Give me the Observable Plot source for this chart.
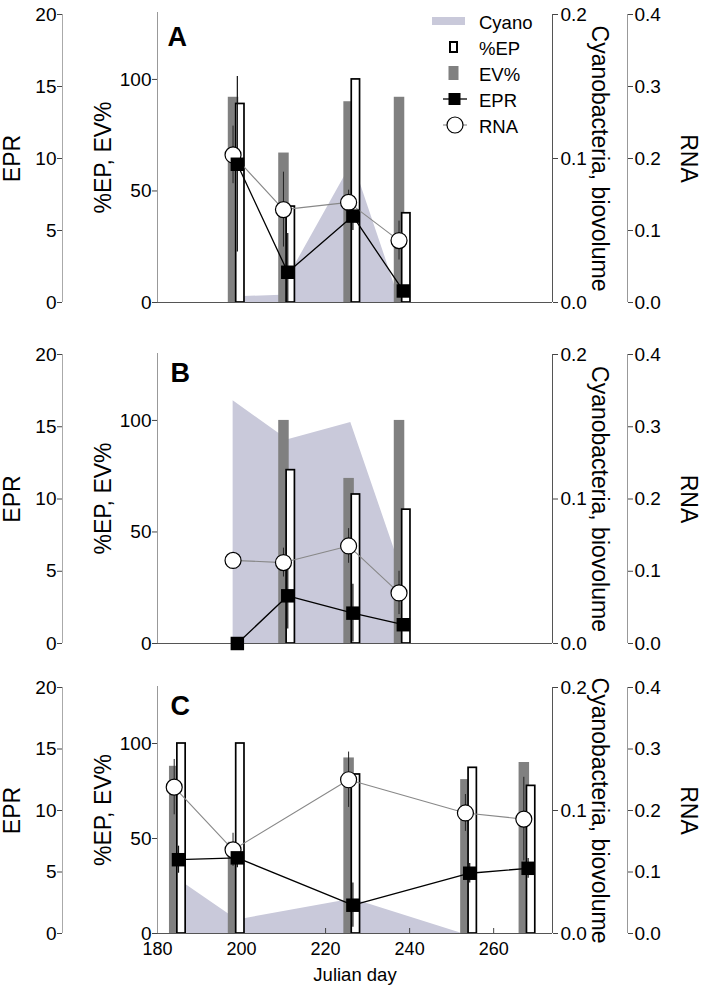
<!DOCTYPE html>
<html><head><meta charset="utf-8">
<script src="https://cdn.jsdelivr.net/npm/d3@7"></script>
<script src="https://cdn.jsdelivr.net/npm/@observablehq/plot@0.6"></script>
<style>
body{margin:0;background:#fff;}
#chart{position:relative;width:702px;height:991px;overflow:hidden;}
#chart svg{position:absolute;left:0;top:0;}
</style></head>
<body><div id="chart"></div>
<script>
// ---------- scales / ticks ----------
const xDomain = [180, 274];
const xTicks = [180, 200, 220, 240, 260];
const epTicks = [0, 50, 100];
const eprTicks = [0, 5, 10, 15, 20];
const cyanoTicks = [0, 0.1, 0.2];
const rnaTicks = [0, 0.1, 0.2, 0.3, 0.4];
const legendLabels = ["Cyano", "%EP", "EV%", "EPR", "RNA"];

// ---------- Panel A ----------
const A_days = [199, 211, 226.5, 238.5];
const A_ev = [92, 67, 90, 92];
const A_ep = [89, 43, 100, 40];
const A_epr = [9.6, 2.1, 6.0, 0.8];
const A_eprErr = [6.1, 2.7, 1.0, 0.3];
const A_rna = [0.205, 0.129, 0.139, 0.086];
const A_rnaErr = [0.040, 0.052, 0.017, 0.027];
const A_cyanoDays = [199, 209.5, 211, 226.5, 237.8];
const A_cyano = [0.004, 0.005, 0.017, 0.098, 0];

// ---------- Panel B ----------
const B_days = [199, 211, 226.5, 238.5];
const B_ev = [null, 100, 74, 100];
const B_ep = [null, 77.7, 66.8, 60];
const B_epr = [0, 3.3, 2.1, 1.3];
const B_eprErr = [0, 2.3, 2.0, 0.4];
const B_rna = [0.115, 0.112, 0.135, 0.070];
const B_rnaErr = [0, 0.020, 0.024, 0.030];
const B_cyanoDays = [198, 211, 226, 238.5];
const B_cyano = [0.168, 0.141, 0.153, 0.047];

// ---------- Panel C ----------
const C_days = [185, 199, 226.5, 254.3, 268.2];
const C_ev = [88, 48, 92.4, 81, 90];
const C_ep = [100, 100, 83.7, 87.2, 77.7];
const C_epr = [6.0, 6.15, 2.3, 4.9, 5.3];
const C_eprErr = [1.1, 0.8, 1.8, 0.8, 0.8];
const C_rna = [0.238, 0.136, 0.250, 0.196, 0.186];
const C_rnaErr = [0.045, 0.027, 0.045, 0.030, 0.068];
const C_cyanoDays = [185, 199, 226.5, 252.5];
const C_cyano = [0.044, 0.011, 0.028, 0];

// ---------- layout ----------
const W = 702, H = 991;
const FL = 157, FR = 552;
const FONT = '"Liberation Sans", Arial, Helvetica, sans-serif';
const CYANO_COL = "#c9c9da", GRAY = "#808080";

const panels = [
  {letter: "A", days: A_days, ev: A_ev, ep: A_ep, epr: A_epr, eprErr: A_eprErr, rna: A_rna, rnaErr: A_rnaErr,
   cDays: A_cyanoDays, cyano: A_cyano, epTop: 12, top: 14, bottom: 302, letterDx: 10, letterDy: 14, xAxis: false},
  {letter: "B", days: B_days, ev: B_ev, ep: B_ep, epr: B_epr, eprErr: B_eprErr, rna: B_rna, rnaErr: B_rnaErr,
   cDays: B_cyanoDays, cyano: B_cyano, epTop: 353, top: 354, bottom: 643, letterDx: 13, letterDy: 9, xAxis: false},
  {letter: "C", days: C_days, ev: C_ev, ep: C_ep, epr: C_epr, eprErr: C_eprErr, rna: C_rna, rnaErr: C_rnaErr,
   cDays: C_cyanoDays, cyano: C_cyano, epTop: 686, top: 687, bottom: 933, letterDx: 13, letterDy: 9, xAxis: true}
];

const chart = document.getElementById("chart");
function addLayer(top, bottom, yDomain, marks) {
  const svg = Plot.plot({
    width: W, height: H,
    marginLeft: FL, marginRight: W - FR, marginTop: top, marginBottom: H - bottom,
    x: {domain: xDomain, axis: null},
    y: {domain: yDomain, axis: null},
    style: {background: "transparent", fontFamily: FONT, fontSize: "19px", color: "#000", overflow: "visible"},
    marks
  });
  svg.style.position = "absolute"; svg.style.left = "0px"; svg.style.top = "0px";
  chart.append(svg);
}

const RNA_DX = -4.3;
const fmt1 = d3.format(".1f");

for (const p of panels) {
  const rows = p.days.map((d, i) => ({day: d, ev: p.ev[i], ep: p.ep[i], epr: p.epr[i], eprErr: p.eprErr[i], rna: p.rna[i], rnaErr: p.rnaErr[i]}));
  const cyanoRows = p.cDays.map((d, i) => ({day: d, v: p.cyano[i]}));
  const evRows = rows.filter(r => r.ev != null);
  const epRows = rows.filter(r => r.ep != null);

  // 1. Cyanobacteria layer
  addLayer(p.top, p.bottom, [0, 0.2], [
    Plot.areaY(cyanoRows, {x: "day", y: "v", fill: CYANO_COL}),
    Plot.ruleX([xDomain[1]], {stroke: "#555", strokeWidth: 1}),
    Plot.axisY({anchor: "right", ticks: cyanoTicks, tickFormat: fmt1, tickSize: 5, tickPadding: 3, label: null, stroke: "#444", fill: "#000", fontSize: 19}),
    Plot.text(["Cyanobacteria, biovolume"], {text: d => d, frameAnchor: "right", dx: 47, rotate: 90, textAnchor: "middle", lineAnchor: "middle", fontSize: 23, fill: "#000"})
  ]);

  // 2. Bars layer (%EP, EV%)
  const barMarks = [];
  if (p.xAxis) {
    barMarks.push(Plot.ruleX(xTicks, {x: d => d, y1: () => 0, y2: () => 0, insetTop: -5, stroke: "#444"}));
  }
  barMarks.push(
    Plot.rect(evRows, {x1: "day", x2: "day", y1: () => 0, y2: "ev", insetLeft: -9.05, insetRight: -1.45, fill: GRAY}),
    Plot.rect(epRows, {x1: "day", x2: "day", y1: () => 0, y2: "ep", insetLeft: -1.15, insetRight: -7.15, fill: "white", stroke: "black", strokeWidth: 1.7}),
    Plot.ruleX([xDomain[0]], {stroke: "#999", strokeWidth: 1}),
    Plot.ruleY([0], {stroke: "#555", strokeWidth: 1.2}),
    Plot.axisY({anchor: "left", ticks: epTicks, tickSize: 5, tickPadding: 1, label: null, stroke: "#444", fill: "#000", fontSize: 19}),
    Plot.text(["%EP, EV%"], {text: d => d, frameAnchor: "left", dx: -53.5, rotate: -90, textAnchor: "middle", lineAnchor: "middle", fontSize: 23, fill: "#000"}),
    Plot.text([p.letter], {text: d => d, frameAnchor: "top-left", dx: p.letterDx, dy: p.letterDy, lineAnchor: "top", textAnchor: "start", fontSize: 27, fontWeight: "bold", fill: "#000"})
  );
  if (p.xAxis) {
    barMarks.push(
      Plot.axisX({anchor: "bottom", ticks: xTicks, tickSize: 0, tickPadding: 8.5, label: null, fill: "#000", fontSize: 18}),
      Plot.text(["Julian day"], {text: d => d, frameAnchor: "bottom", dy: 47, textAnchor: "middle", lineAnchor: "bottom", fontSize: 18.5, fill: "#000"})
    );
  }
  addLayer(p.epTop, p.bottom, [0, 130], barMarks);

  // 3. EPR error bars (beneath RNA circles)
  addLayer(p.top, p.bottom, [0, 20], [
    Plot.ruleX(rows.filter(r => r.eprErr > 0), {x: "day", y1: r => Math.max(0, r.epr - r.eprErr), y2: r => r.epr + r.eprErr, stroke: "#111", strokeWidth: 1.2})
  ]);

  // 4. RNA layer
  addLayer(p.top, p.bottom, [0, 0.4], [
    Plot.ruleX(rows.filter(r => r.rnaErr > 0), {x: "day", y1: r => r.rna - r.rnaErr, y2: r => r.rna + r.rnaErr, dx: RNA_DX, stroke: "#222", strokeWidth: 1}),
    Plot.line(rows, {x: "day", y: "rna", dx: RNA_DX, stroke: "#888", strokeWidth: 1.1}),
    Plot.dot(rows, {x: "day", y: "rna", dx: RNA_DX, r: 8, fill: "white", stroke: "black", strokeWidth: 1.2}),
    Plot.ruleX([xDomain[1]], {dx: 75, stroke: "#999", strokeWidth: 1}),
    Plot.axisY({anchor: "right", ticks: rnaTicks, tickFormat: fmt1, tickSize: 5, tickPadding: 2, label: null, dx: 75, stroke: "#444", fill: "#000", fontSize: 19}),
    Plot.text(["RNA"], {text: d => d, frameAnchor: "right", dx: 136, rotate: 90, textAnchor: "middle", lineAnchor: "middle", fontSize: 23, fill: "#000"})
  ]);

  // 5. EPR layer
  addLayer(p.top, p.bottom, [0, 20], [
    Plot.line(rows, {x: "day", y: "epr", stroke: "black", strokeWidth: 1.3}),
    Plot.dot(rows, {x: "day", y: "epr", symbol: "square", r: 7.6, fill: "black"}),
    Plot.ruleX([xDomain[0]], {dx: -95, stroke: "#aaa", strokeWidth: 1}),
    Plot.axisY({anchor: "left", ticks: eprTicks, tickSize: 5, tickPadding: 1, label: null, dx: -95, stroke: "#444", fill: "#000", fontSize: 19}),
    Plot.text(["EPR"], {text: d => d, frameAnchor: "left", dx: -144.5, rotate: -90, textAnchor: "middle", lineAnchor: "middle", fontSize: 23, fill: "#000"})
  ]);
}

// ---------- Legend (panel A) ----------
const lg = d3.select(chart).append("svg")
  .attr("width", W).attr("height", 150)
  .style("font-family", FONT).style("font-size", "18.5px");
const LX = 479, B0 = 28.5, STEP = 26;
legendLabels.forEach((lab, i) => {
  const base = B0 + i * STEP;
  const cy = base - 7.5;
  const g = lg.append("g");
  if (lab === "Cyano") {
    g.append("rect").attr("x", 432).attr("y", cy - 4).attr("width", 33).attr("height", 8).attr("fill", CYANO_COL);
  } else if (lab === "%EP") {
    g.append("rect").attr("x", 450).attr("y", cy - 5).attr("width", 7).attr("height", 10).attr("fill", "white").attr("stroke", "black").attr("stroke-width", 2);
  } else if (lab === "EV%") {
    g.append("rect").attr("x", 448.5).attr("y", cy - 7).attr("width", 10).attr("height", 14).attr("fill", GRAY);
  } else if (lab === "EPR") {
    g.append("line").attr("x1", 443).attr("x2", 467).attr("y1", cy).attr("y2", cy).attr("stroke", "black").attr("stroke-width", 1.3);
    g.append("rect").attr("x", 448.5).attr("y", cy - 6).attr("width", 12).attr("height", 12).attr("fill", "black");
  } else {
    g.append("line").attr("x1", 443).attr("x2", 467).attr("y1", cy).attr("y2", cy).attr("stroke", "#888").attr("stroke-width", 1.1);
    g.append("circle").attr("cx", 455).attr("cy", cy).attr("r", 8).attr("fill", "white").attr("stroke", "black").attr("stroke-width", 1.2);
  }
  g.append("text").attr("x", LX).attr("y", base).attr("fill", "#000").text(lab);
});
</script>
</body></html>
